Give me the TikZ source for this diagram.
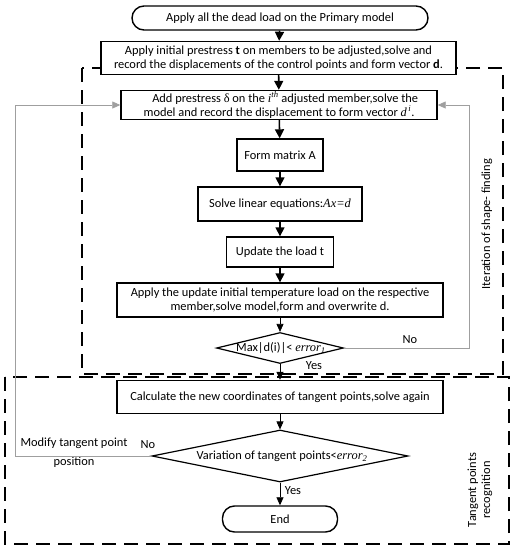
\documentclass[tikz,border=0pt]{standalone}
\usepackage{fontspec}
\setmainfont{Carlito}
\newfontfamily\tms{Liberation Serif}
\usetikzlibrary{arrows.meta,shapes.geometric}
\begin{document}
\begin{tikzpicture}[x=1pt,y=-1pt,
  font=\fontsize{12.4}{14}\selectfont,
  stepbox/.style={draw,line width=1.4pt,fill=white,align=center,inner sep=1pt},
  termbox/.style={stepbox,rounded corners=12pt},
  decbox/.style={diamond,draw,line width=1.2pt,fill=white,inner sep=0pt},
  flowarrow/.style={line width=1.6pt,-{Triangle[length=9pt,width=9pt]}},
  thinarrow/.style={line width=0.7pt,-{Triangle[length=8pt,width=7pt]}},
  backline/.style={draw=gray!75,line width=0.9pt},
  group/.style={draw,line width=1.4pt,dash pattern=on 14pt off 8pt}]
\useasboundingbox (0,0) rectangle (525,550);
% dashed groups
\draw[group] (82,68) rectangle (503,374);
\draw[group] (5,377) rectangle (509,544);
% nodes
\node[termbox,minimum width=296pt,minimum height=24pt] (start) at (280,18) {Apply all the dead load on the Primary model};
\node[stepbox,minimum width=355pt,minimum height=33pt] (b2) at (278.5,58) {Apply initial prestress \textbf{t} on members to be adjusted,solve and\\record the displacements of the control points and form vector \textbf{d}.};
\node[stepbox,minimum width=316pt,minimum height=29pt] (b3) at (279,105) {\quad Add prestress {\tms δ} on the {\tms\itshape i\textsuperscript{th}} adjusted member,solve the\\model and record the displacement to form vector {\tms\itshape d\textsuperscript{\,i}}.};
\node[stepbox,minimum width=86pt,minimum height=32pt] (b4) at (280,155) {Form matrix A};
\node[stepbox,minimum width=164pt,minimum height=34pt] (b5) at (280,204) {Solve linear equations:{\tms\itshape Ax=d}};
\node[stepbox,minimum width=107pt,minimum height=30pt] (b6) at (280,252) {Update the load t};
\node[stepbox,minimum width=326pt,minimum height=34pt] (b7) at (280,300) {Apply the update initial temperature load on the respective\\member,solve model,form and overwrite d.};
\node[decbox,minimum width=127pt,minimum height=31pt] (d1) at (280,348) {};
\node (d1t) at (281,348) {Max|d(i)|< {\tms\itshape error\textsubscript{1}}};
\node[stepbox,minimum width=326pt,minimum height=33pt] (b8) at (280,397) {Calculate the new coordinates of tangent points,solve again};
\node[decbox,minimum width=256pt,minimum height=52pt] (d2) at (280,456) {};
\node (d2t) at (282,456) {Variation of tangent points<{\tms\itshape error\textsubscript{2}}};
\node[termbox,minimum width=115pt,minimum height=26pt] (end) at (280,519) {End};
% labels
\node (no1) at (410,340) {No};
\node (yes1) at (314,366) {Yes};
\node (no2) at (148,445) {No};
\node[align=center] (modify) at (74,453) {Modify tangent point\\[5pt]position};
\node (yes2) at (293,491) {Yes};
\node[rotate=90] (iter) at (487,224) {Iteration of shape- finding};
\node[rotate=90,align=center] (tang) at (480,490) {Tangent points\\recognition};
% flow arrows
\draw[flowarrow] (start) -- (b2);
\draw[flowarrow] (b2) -- (b3);
\draw[flowarrow] (b3) -- (b4);
\draw[flowarrow] (b4) -- (b5);
\draw[flowarrow] (b5) -- (b6);
\draw[flowarrow] (b6) -- (b7);
\draw[thinarrow] (b7) -- (d1);
\draw[thinarrow] (d1) -- (b8);
\draw[thinarrow] (b8) -- (d2);
\draw[thinarrow] (d2) -- (end);
% feedback loops
\coordinate (r1) at (469,348);
\coordinate (r2) at (469,105);
\coordinate (l1) at (15,456);
\coordinate (l2) at (15,105);
\draw[backline] (d1.east) -- (r1) -- (r2);
\draw[thinarrow,draw=gray!75] (r2) -- (b3.east);
\draw[backline] (d2.west) -- (l1) -- (l2);
\draw[thinarrow,draw=gray!75] (l2) -- (b3.west);
\end{tikzpicture}
\end{document}
